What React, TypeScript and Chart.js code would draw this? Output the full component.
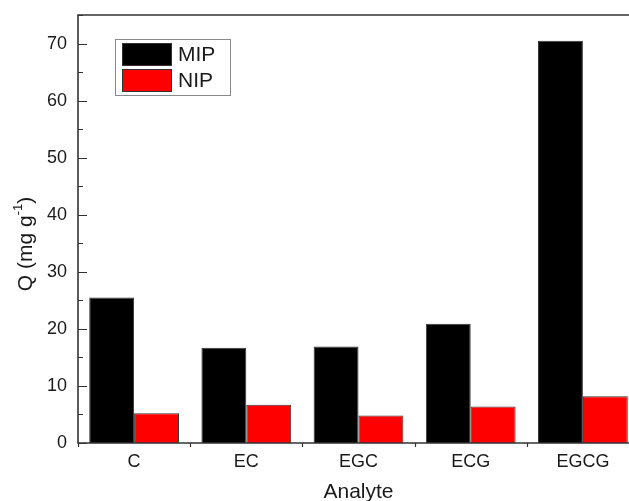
import React, { useEffect, useRef } from "react";
import { Chart, registerables } from "chart.js";

Chart.register(...registerables);

const categories = ["C", "EC", "EGC", "ECG", "EGCG"];
const mipValues = [25.5, 16.7, 16.9, 20.9, 70.5];
const nipValues = [5.2, 6.7, 4.8, 6.4, 8.2];
const seriesLabels = ["MIP", "NIP"];
const seriesColors = ["#000000", "#ff0000"];
const yMajorTicks = [0, 10, 20, 30, 40, 50, 60, 70];
const yMinorTicks = [5, 15, 25, 35, 45, 55, 65, 75];

const FONT = "'Liberation Sans', Arial, sans-serif";

const framePlugin = {
  id: "frame",
  afterDraw(chart: any) {
    const { ctx, chartArea } = chart;
    const { left, right, top, bottom } = chartArea;
    const y = chart.scales.y;
    const x = chart.scales.x;
    ctx.save();
    // frame
    ctx.strokeStyle = "#333333";
    ctx.lineWidth = 1.6;
    ctx.beginPath();
    ctx.moveTo(right, top);
    ctx.lineTo(left, top);
    ctx.lineTo(left, bottom);
    ctx.lineTo(right, bottom);
    ctx.lineTo(right, top);
    ctx.stroke();
    // y ticks inward
    ctx.lineWidth = 1.2;
    ctx.beginPath();
    yMajorTicks.forEach((v) => {
      const py = Math.round(y.getPixelForValue(v)) + 0.5;
      ctx.moveTo(left, py);
      ctx.lineTo(left + 9, py);
    });
    yMinorTicks.forEach((v) => {
      const py = Math.round(y.getPixelForValue(v)) + 0.5;
      ctx.moveTo(left, py);
      ctx.lineTo(left + 5, py);
    });
    // x ticks at category boundaries, outward
    const step = x.getPixelForTick(1) - x.getPixelForTick(0);
    for (let i = 0; i <= categories.length; i++) {
      const px = Math.round(x.getPixelForTick(0) - step / 2 + i * step) + 0.5;
      ctx.moveTo(px, bottom);
      ctx.lineTo(px, bottom + 4);
    }
    ctx.stroke();

    // legend
    const lx = left + 37;
    const ly = top + 24;
    ctx.fillStyle = "#ffffff";
    ctx.strokeStyle = "#8a8a8a";
    ctx.lineWidth = 1;
    ctx.fillRect(lx, ly, 115, 56);
    ctx.strokeRect(lx + 0.5, ly + 0.5, 115, 56);
    chart.data.datasets.forEach((ds: any, i: number) => {
      const sy = ly + 4 + i * 26;
      ctx.fillStyle = ds.backgroundColor;
      ctx.fillRect(lx + 7, sy, 50, 23);
      ctx.strokeStyle = "#333333";
      ctx.strokeRect(lx + 7.5, sy + 0.5, 49, 22);
      ctx.fillStyle = "#1a1a1a";
      ctx.font = `21px ${FONT}`;
      ctx.textAlign = "left";
      ctx.textBaseline = "middle";
      ctx.fillText(ds.label, lx + 63, sy + 12);
    });

    // axis titles
    ctx.fillStyle = "#1a1a1a";
    ctx.font = `21px ${FONT}`;
    ctx.textAlign = "center";
    ctx.textBaseline = "alphabetic";
    ctx.fillText("Analyte", (left + right) / 2, 498);

    ctx.save();
    ctx.translate(32, 244);
    ctx.rotate(-Math.PI / 2);
    const main = "Q (mg g";
    const sup = "-1";
    const close = ")";
    ctx.font = `21px ${FONT}`;
    const wMain = ctx.measureText(main).width;
    const wClose = ctx.measureText(close).width;
    ctx.font = `13px ${FONT}`;
    const wSup = ctx.measureText(sup).width;
    const total = wMain + wSup + wClose;
    let cx = -total / 2;
    ctx.textAlign = "left";
    ctx.font = `21px ${FONT}`;
    ctx.fillText(main, cx, 0);
    cx += wMain;
    ctx.font = `13px ${FONT}`;
    ctx.fillText(sup, cx, -10);
    cx += wSup;
    ctx.font = `21px ${FONT}`;
    ctx.fillText(close, cx, 0);
    ctx.restore();

    ctx.restore();
  },
};

export default function App() {
  const ref = useRef<HTMLCanvasElement | null>(null);

  useEffect(() => {
    document.body.style.margin = "0";
    if (!ref.current) return;
    const chart = new Chart(ref.current, {
      type: "bar",
      data: {
        labels: categories,
        datasets: [
          {
            label: seriesLabels[0],
            data: mipValues,
            backgroundColor: seriesColors[0],
            borderColor: "#333333",
            borderWidth: 1,
          },
          {
            label: seriesLabels[1],
            data: nipValues,
            backgroundColor: seriesColors[1],
            borderColor: "#333333",
            borderWidth: 1,
          },
        ],
      },
      options: {
        responsive: false,
        animation: false,
        layout: { padding: { top: 15, left: 0, right: 1, bottom: 0 } },
        datasets: {
          bar: { categoryPercentage: 0.8, barPercentage: 1.0 },
        },
        plugins: {
          legend: { display: false },
          tooltip: { enabled: false },
        },
        scales: {
          x: {
            grid: { display: false, drawTicks: false },
            border: { display: false },
            ticks: {
              padding: 8,
              color: "#1a1a1a",
              font: { family: FONT, size: 18 },
              maxRotation: 0,
            },
            afterFit(scale: any) {
              scale.height = 58;
              scale.paddingLeft = 0;
              scale.paddingRight = 0;
            },
          },
          y: {
            min: 0,
            max: 75,
            grid: { display: false, drawTicks: false },
            border: { display: false },
            ticks: {
              stepSize: 10,
              padding: 11,
              color: "#1a1a1a",
              font: { family: FONT, size: 18 },
            },
            afterBuildTicks(scale: any) {
              scale.ticks = yMajorTicks.map((v) => ({ value: v }));
            },
            afterFit(scale: any) {
              scale.width = 78;
              scale.paddingTop = 0;
              scale.paddingBottom = 0;
            },
          },
        },
      },
      plugins: [framePlugin],
    });
    return () => chart.destroy();
  }, []);

  return (
    <div style={{ width: 629, height: 501, overflow: "hidden", position: "relative", background: "#fff" }}>
      <canvas ref={ref} width={640} height={501} style={{ display: "block" }} />
    </div>
  );
}
